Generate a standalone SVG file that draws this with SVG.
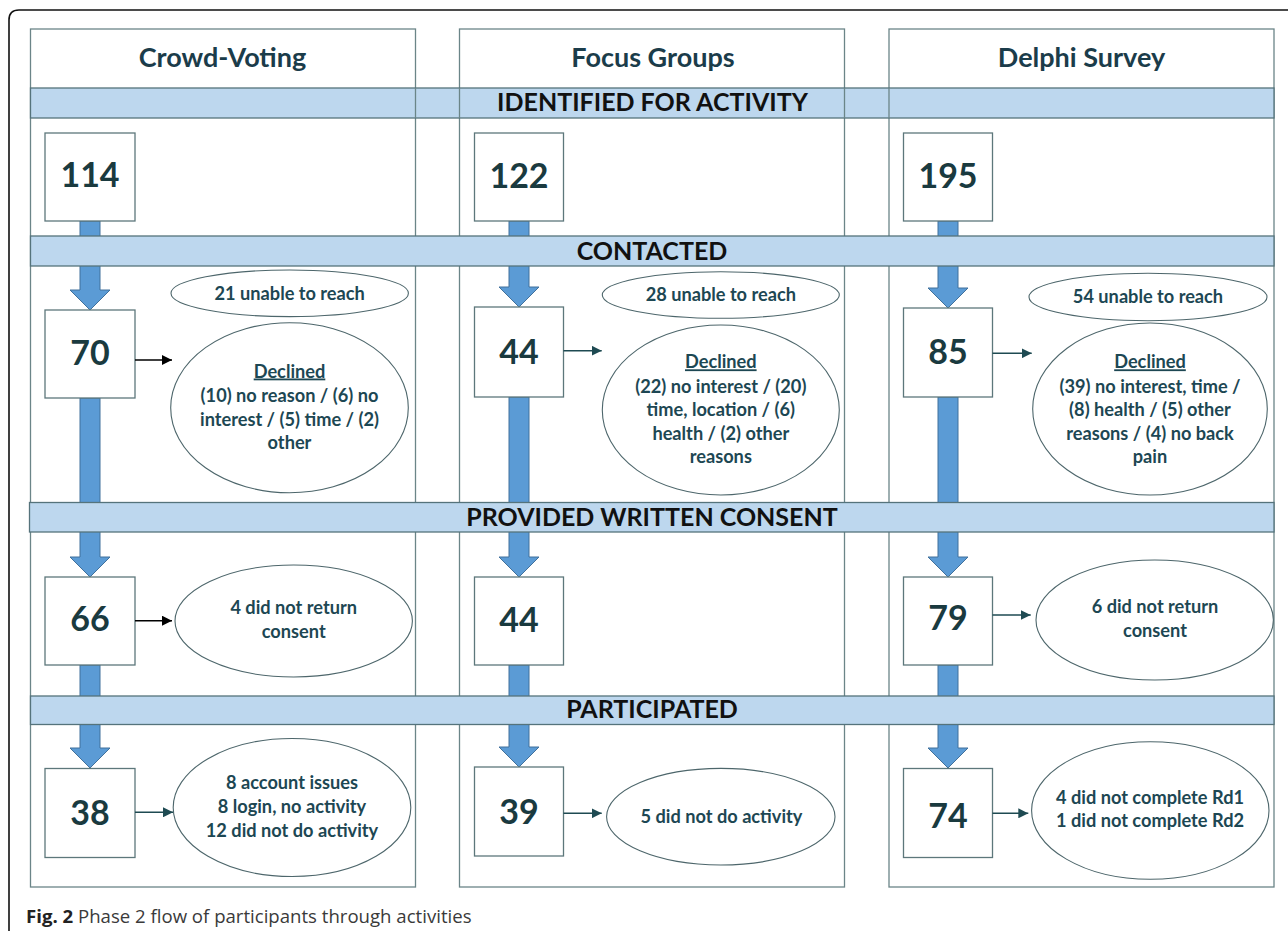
<svg xmlns="http://www.w3.org/2000/svg" width="1288" height="931" viewBox="0 0 1288 931">
  <defs>
    <style>
      .frame { fill: none; stroke: #111; stroke-width: 1.6; }
      .col { fill: #fff; stroke: #6b8588; stroke-width: 1.3; }
      .band { fill: #bdd7ee; stroke: #55737b; stroke-width: 1.3; }
      .vline { stroke: #6b8588; stroke-width: 1.3; }
      .box { fill: #fff; stroke: #5d777b; stroke-width: 1.3; }
      .flow { fill: #5b9bd5; stroke: #41719c; stroke-width: 1; }
      .oval { fill: #fff; stroke: #4d666b; stroke-width: 1.1; }
      .hdr { font-family: Lato, "Open Sans", sans-serif; font-weight: bold; font-size: 27px; fill: #1b3c4a; text-anchor: middle; }
      .bandtxt { font-family: Lato, "Open Sans", sans-serif; font-weight: bold; font-size: 25px; fill: #111; text-anchor: middle; }
      .num { font-family: Lato, "Open Sans", sans-serif; font-weight: bold; font-size: 34px; fill: #1a3a3f; text-anchor: middle; }
      .note { font-family: Lato, "Open Sans", sans-serif; font-weight: bold; font-size: 18.2px; fill: #1d4753; text-anchor: middle; }
      .cap { font-family: "Open Sans", "Liberation Sans", sans-serif; font-size: 18.6px; fill: #3a3a3a; }
      .link { stroke-width: 1.6; fill: none; }
    </style>
    <marker id="headBlack" viewBox="0 0 10 10" refX="10" refY="5" markerWidth="10" markerHeight="10" markerUnits="userSpaceOnUse" orient="auto">
      <path d="M0,0 L10,5 L0,10 z" fill="#000"/>
    </marker>
    <marker id="headTeal" viewBox="0 0 10 10" refX="10" refY="5" markerWidth="10" markerHeight="10" markerUnits="userSpaceOnUse" orient="auto">
      <path d="M0,0 L10,5 L0,10 z" fill="#1e4a52"/>
    </marker>
  </defs>

  <!-- outer figure frame -->
  <path class="frame" d="M9,931 V20 Q9,10 19,10 H1288"/>

  <!-- activity columns -->
  <g id="columns">
    <rect class="col" x="30.5" y="29" width="385" height="858"/>
    <rect class="col" x="459.5" y="29" width="385" height="858"/>
    <rect class="col" x="889" y="29" width="385" height="858"/>
  </g>

  <!-- thick flow arrows (drawn beneath the stage bands) -->
  <g id="flow-arrows">
    <path class="flow" d="M80,221 H100 V290 H110 L90,310 L70,290 H80 Z"/>
    <path class="flow" d="M80,398 H100 V557 H110 L90,577 L70,557 H80 Z"/>
    <path class="flow" d="M80,665 H100 V748 H110 L90,768 L70,748 H80 Z"/>

    <path class="flow" d="M509,221 H529 V287 H539 L519,307 L499,287 H509 Z"/>
    <path class="flow" d="M509,397 H529 V557 H539 L519,577 L499,557 H509 Z"/>
    <path class="flow" d="M509,665 H529 V747 H539 L519,767 L499,747 H509 Z"/>

    <path class="flow" d="M938,221 H958 V288 H968 L948,308 L928,288 H938 Z"/>
    <path class="flow" d="M938,397 H958 V557 H968 L948,577 L928,557 H938 Z"/>
    <path class="flow" d="M938,665 H958 V748 H968 L948,768 L928,748 H938 Z"/>
  </g>

  <!-- stage bands -->
  <g id="stage-identified">
    <rect class="band" x="30.5" y="88" width="1243.5" height="30"/>
    <line class="vline" x1="415.5" y1="88" x2="415.5" y2="118"/>
    <line class="vline" x1="459.5" y1="88" x2="459.5" y2="118"/>
    <line class="vline" x1="844.5" y1="88" x2="844.5" y2="118"/>
    <line class="vline" x1="889" y1="88" x2="889" y2="118"/>
    <text class="bandtxt" x="652.5" y="110.5">IDENTIFIED FOR ACTIVITY</text>
  </g>
  <g id="stage-contacted">
    <rect class="band" x="30.5" y="236" width="1243.5" height="30"/>
    <text class="bandtxt" x="652" y="259.5">CONTACTED</text>
  </g>
  <g id="stage-consent">
    <rect class="band" x="29.5" y="502.5" width="1244.5" height="29.5"/>
    <text class="bandtxt" x="652" y="526">PROVIDED WRITTEN CONSENT</text>
  </g>
  <g id="stage-participated">
    <rect class="band" x="30.5" y="696" width="1243.5" height="28.5"/>
    <text class="bandtxt" x="652" y="718">PARTICIPATED</text>
  </g>

  <!-- column headings -->
  <g id="heading-crowd"><text class="hdr" x="222.5" y="67">Crowd-Voting</text></g>
  <g id="heading-focus"><text class="hdr" x="653" y="67">Focus Groups</text></g>
  <g id="heading-delphi"><text class="hdr" x="1081.5" y="67">Delphi Survey</text></g>

  <!-- count boxes: Crowd-Voting -->
  <g id="cv-identified"><rect class="box" x="45" y="133" width="90" height="88"/><text class="num" x="90" y="187">114</text></g>
  <g id="cv-contacted"><rect class="box" x="45" y="310" width="90" height="88"/><text class="num" x="90" y="365">70</text></g>
  <g id="cv-consent"><rect class="box" x="45" y="577" width="90" height="88"/><text class="num" x="90" y="631">66</text></g>
  <g id="cv-participated"><rect class="box" x="45" y="768.5" width="90" height="89"/><text class="num" x="90" y="824.5">38</text></g>

  <!-- count boxes: Focus Groups -->
  <g id="fg-identified"><rect class="box" x="474.5" y="133" width="89" height="88"/><text class="num" x="519" y="188">122</text></g>
  <g id="fg-contacted"><rect class="box" x="474.5" y="307" width="89" height="90"/><text class="num" x="519" y="364">44</text></g>
  <g id="fg-consent"><rect class="box" x="474.5" y="577" width="89" height="88"/><text class="num" x="519" y="631.5">44</text></g>
  <g id="fg-participated"><rect class="box" x="474.5" y="767" width="89" height="89"/><text class="num" x="519" y="824">39</text></g>

  <!-- count boxes: Delphi Survey -->
  <g id="ds-identified"><rect class="box" x="903.5" y="133" width="89" height="88"/><text class="num" x="948" y="188">195</text></g>
  <g id="ds-contacted"><rect class="box" x="903.5" y="308" width="89" height="89"/><text class="num" x="948" y="364">85</text></g>
  <g id="ds-consent"><rect class="box" x="903.5" y="577" width="89" height="88"/><text class="num" x="948" y="630">79</text></g>
  <g id="ds-participated"><rect class="box" x="903.5" y="768.5" width="89" height="89"/><text class="num" x="948" y="828">74</text></g>

  <!-- outcome ovals: Crowd-Voting -->
  <g id="cv-unreached">
    <ellipse class="oval" cx="289.7" cy="293.3" rx="118.7" ry="23.3"/>
    <text class="note" x="289.7" y="299.5">21 unable to reach</text>
  </g>
  <g id="cv-declined">
    <ellipse class="oval" cx="289.5" cy="407.7" rx="118.8" ry="85"/>
    <text class="note" x="289.5" y="377.5" text-decoration="underline">Declined</text>
    <text class="note" x="289.5" y="401.7">(10) no reason / (6) no</text>
    <text class="note" x="289.5" y="425.7">interest / (5) time  / (2)</text>
    <text class="note" x="289.5" y="449">other</text>
  </g>
  <g id="cv-noconsent">
    <ellipse class="oval" cx="293.7" cy="621" rx="118.7" ry="56"/>
    <text class="note" x="293.7" y="614">4 did not return</text>
    <text class="note" x="293.7" y="638">consent</text>
  </g>
  <g id="cv-dropouts">
    <ellipse class="oval" cx="292" cy="807.5" rx="118.8" ry="69"/>
    <text class="note" x="292" y="789.3">8 account issues</text>
    <text class="note" x="292" y="812.7">8 login, no activity</text>
    <text class="note" x="292" y="837.3">12 did not do activity</text>
  </g>

  <!-- outcome ovals: Focus Groups -->
  <g id="fg-unreached">
    <ellipse class="oval" cx="720.8" cy="295" rx="118.5" ry="23.3"/>
    <text class="note" x="720.8" y="300.5">28 unable to reach</text>
  </g>
  <g id="fg-declined">
    <ellipse class="oval" cx="720.8" cy="410" rx="118.5" ry="85"/>
    <text class="note" x="720.8" y="368.3" text-decoration="underline">Declined</text>
    <text class="note" x="720.8" y="392.7">(22) no interest / (20)</text>
    <text class="note" x="720.8" y="416">time, location / (6)</text>
    <text class="note" x="720.8" y="440">health / (2) other</text>
    <text class="note" x="720.8" y="463.3">reasons</text>
  </g>
  <g id="fg-dropouts">
    <ellipse class="oval" cx="720.8" cy="816.7" rx="114.2" ry="48.3"/>
    <text class="note" x="721.5" y="823.3">5 did not do activity</text>
  </g>

  <!-- outcome ovals: Delphi Survey -->
  <g id="ds-unreached">
    <ellipse class="oval" cx="1148" cy="297" rx="119" ry="23.7"/>
    <text class="note" x="1148" y="303">54 unable to reach</text>
  </g>
  <g id="ds-declined">
    <ellipse class="oval" cx="1150" cy="409" rx="117.3" ry="86"/>
    <text class="note" x="1150" y="368.3" text-decoration="underline">Declined</text>
    <text class="note" x="1150" y="392.7">(39) no interest, time /</text>
    <text class="note" x="1150" y="416">(8) health / (5) other</text>
    <text class="note" x="1150" y="440">reasons / (4) no back</text>
    <text class="note" x="1150" y="463.3">pain</text>
  </g>
  <g id="ds-noconsent">
    <ellipse class="oval" cx="1154.7" cy="620" rx="118.7" ry="60"/>
    <text class="note" x="1155" y="613.3">6 did not return</text>
    <text class="note" x="1155" y="636.7">consent</text>
  </g>
  <g id="ds-dropouts">
    <ellipse class="oval" cx="1150.3" cy="810.5" rx="118.7" ry="68.8"/>
    <text class="note" x="1150" y="804">4 did not complete Rd1</text>
    <text class="note" x="1150" y="827.3">1 did not complete Rd2</text>
  </g>

  <!-- thin connectors from counts to outcome ovals -->
  <g id="connectors">
    <line class="link" stroke="#000" x1="135" y1="360" x2="172" y2="360" marker-end="url(#headBlack)"/>
    <line class="link" stroke="#000" x1="135" y1="620.7" x2="172" y2="620.7" marker-end="url(#headBlack)"/>
    <line class="link" stroke="#1e4a52" x1="135" y1="812.3" x2="173" y2="812.3" marker-end="url(#headTeal)"/>
    <line class="link" stroke="#1e4a52" x1="563.5" y1="350.7" x2="601.7" y2="350.7" marker-end="url(#headTeal)"/>
    <line class="link" stroke="#1e4a52" x1="563.5" y1="813.3" x2="601.7" y2="813.3" marker-end="url(#headTeal)"/>
    <line class="link" stroke="#1e4a52" x1="992.5" y1="353.3" x2="1031.7" y2="353.3" marker-end="url(#headTeal)"/>
    <line class="link" stroke="#1e4a52" x1="992.5" y1="615" x2="1030.7" y2="615" marker-end="url(#headTeal)"/>
    <line class="link" stroke="#1e4a52" x1="992.5" y1="813.3" x2="1028.3" y2="813.3" marker-end="url(#headTeal)"/>
  </g>

  <!-- figure caption -->
  <text class="cap" x="26" y="922.5"><tspan font-weight="bold" fill="#222">Fig. 2</tspan> Phase 2 flow of participants through activities</text>
</svg>
